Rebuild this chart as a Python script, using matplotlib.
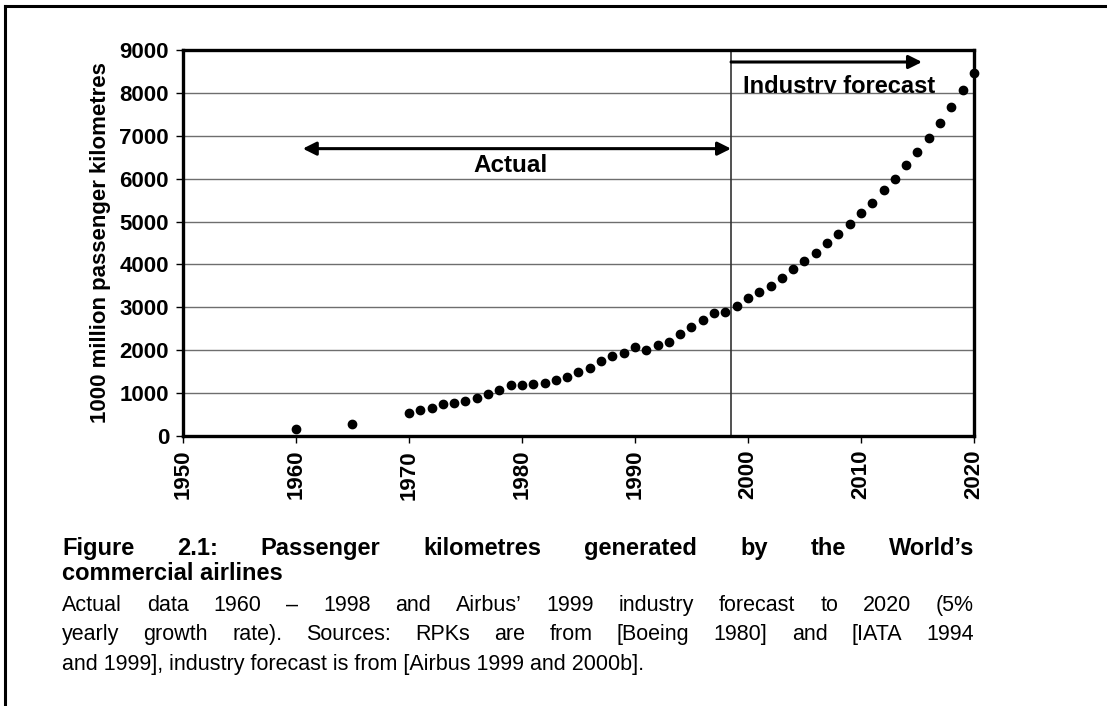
import matplotlib
matplotlib.use("Agg")
import matplotlib.pyplot as plt
from matplotlib.lines import Line2D
from matplotlib.transforms import Bbox, TransformedBbox

plt.rcParams["font.family"] = ["Liberation Sans", "DejaVu Sans"]

# ── Data ─────────────────────────────────────────────────────────────────────
actual_years = [1960, 1965, 1970, 1971, 1972, 1973, 1974, 1975, 1976, 1977,
                1978, 1979, 1980, 1981, 1982, 1983, 1984, 1985, 1986, 1987,
                1988, 1989, 1990, 1991, 1992, 1993, 1994, 1995, 1996, 1997,
                1998]
actual_rpk = [155, 275, 546, 609, 663, 740, 762, 820, 876, 972,
              1073, 1199, 1190, 1222, 1246, 1300, 1386, 1494, 1581, 1745,
              1862, 1940, 2080, 2002, 2112, 2190, 2370, 2534, 2695, 2873,
              2897]

forecast_years = [1999, 2000, 2001, 2002, 2003, 2004, 2005, 2006, 2007, 2008,
                  2009, 2010, 2011, 2012, 2013, 2014, 2015, 2016, 2017, 2018,
                  2019, 2020]
forecast_rpk = [3033, 3209, 3346, 3509, 3687, 3883, 4070, 4271, 4490, 4708,
                4942, 5192, 5439, 5729, 6000, 6320, 6624, 6958, 7294, 7668,
                8056, 8463]

x_ticks = [1950, 1960, 1970, 1980, 1990, 2000, 2010, 2020]
y_ticks = [0, 1000, 2000, 3000, 4000, 5000, 6000, 7000, 8000, 9000]

split_year = 1998.5
actual_span = (1960.6, split_year)
forecast_span = (split_year, 2015.4)

y_label = "1000 million passenger kilometres"
title_lines = [
    ["Figure", "2.1:", "Passenger", "kilometres", "generated", "by", "the", "World\u2019s"],
    "commercial airlines",
]
body_lines = [
    ["Actual", "data", "1960", "\u2013", "1998", "and", "Airbus\u2019", "1999",
     "industry", "forecast", "to", "2020", "(5%"],
    ["yearly", "growth", "rate).", "Sources:", "RPKs", "are", "from", "[Boeing",
     "1980]", "and", "[IATA", "1994"],
    "and 1999], industry forecast is from [Airbus 1999 and 2000b].",
]

# ── Figure ───────────────────────────────────────────────────────────────────
W, H = 1107, 706
fig = plt.figure(figsize=(W / 100, H / 100), dpi=100)
ax = fig.add_axes([183 / W, 1 - 436 / H, 791 / W, 386 / H])

ax.set_xlim(1950, 2020)
ax.set_ylim(0, 9000)
ax.set_xticks(x_ticks)
ax.set_yticks(y_ticks)
ax.yaxis.grid(True, color="#6e6e6e", lw=1.0)
ax.set_axisbelow(True)

for s in ax.spines.values():
    s.set_linewidth(2.4)
    s.set_color("black")

ax.tick_params(direction="out", length=5, width=1, labelsize=16, pad=5)
for lab in ax.get_xticklabels():
    lab.set_rotation(90)
    lab.set_fontweight("bold")
for lab in ax.get_yticklabels():
    lab.set_fontweight("bold")

ax.set_ylabel(y_label, fontsize=16, fontweight="bold", labelpad=6)

ax.axvline(split_year, color="#333333", lw=1.2, zorder=2)

ax.plot(actual_years, actual_rpk, "o", color="black", ms=6, clip_on=False, zorder=5)
ax.plot(forecast_years, forecast_rpk, "o", color="black", ms=6, clip_on=False, zorder=5)

ax.annotate("", xy=(actual_span[0], 6700), xytext=(actual_span[1], 6700),
            arrowprops=dict(arrowstyle="<|-|>", lw=2.2, color="black",
                            mutation_scale=20, shrinkA=0, shrinkB=0))
ax.text(1979.0, 6150, "Actual", fontsize=17.5,
        fontweight="bold", ha="center", va="baseline")

ax.annotate("", xy=(forecast_span[1], 8720), xytext=(forecast_span[0], 8720),
            arrowprops=dict(arrowstyle="-|>", lw=2.2, color="black",
                            mutation_scale=20, shrinkA=0, shrinkB=0),
            annotation_clip=False)
fc = ax.text(1999.6, 8000, "Industry forecast", fontsize=17,
             fontweight="bold", ha="left", va="baseline", zorder=1)
fc.set_clip_box(TransformedBbox(Bbox([[1998.6, 8000], [2019.0, 9000]]), ax.transData))
fc.set_clip_on(True)

# ── Outer frame (left + top) ─────────────────────────────────────────────────
fig.add_artist(Line2D([5 / W, 5 / W], [0, 1 - 6 / H], color="black", lw=2.2))
fig.add_artist(Line2D([5 / W, 1], [1 - 6 / H, 1 - 6 / H], color="black", lw=2.2))

# ── Caption (justified like the source document) ─────────────────────────────
renderer = fig.canvas.get_renderer()
X0, X1 = 62, 974


def put_line(words, y_px, size, weight):
    if isinstance(words, str):
        fig.text(X0 / W, 1 - y_px / H, words, fontsize=size, fontweight=weight,
                 va="baseline", ha="left")
        return
    texts = [fig.text(0, 1 - y_px / H, w, fontsize=size, fontweight=weight,
                      va="baseline", ha="left") for w in words]
    widths = [t.get_window_extent(renderer).width for t in texts]
    gap = (X1 - X0 - sum(widths)) / (len(words) - 1)
    x = X0
    for t, w in zip(texts, widths):
        t.set_x(x / W)
        x += w + gap


put_line(title_lines[0], 555, 17, "bold")
put_line(title_lines[1], 580, 17, "bold")
put_line(body_lines[0], 611, 15.5, "normal")
put_line(body_lines[1], 640, 15.5, "normal")
put_line(body_lines[2], 670, 15.5, "normal")

fig.savefig("out.png", dpi=100)
